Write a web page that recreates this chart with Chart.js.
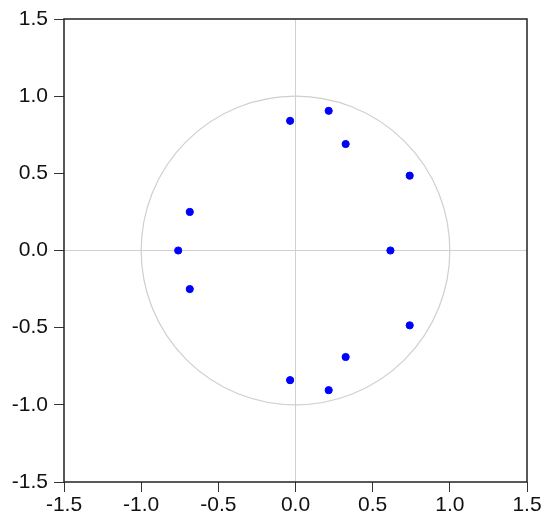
<!DOCTYPE html>
<html><head><meta charset="utf-8">
<script src="https://cdn.jsdelivr.net/npm/chart.js@4/dist/chart.umd.min.js"></script>
<style>html,body{margin:0;padding:0;background:#fff}#wrap{width:550px;height:525px}</style>
</head><body><div id="wrap"><canvas id="c" width="550" height="525"></canvas></div>
<script>
const rootsReal = [-0.035, -0.035, 0.215, 0.215, 0.325, 0.325, 0.74, 0.74, 0.615, -0.685, -0.685, -0.76];
const rootsImag = [0.84, -0.84, 0.905, -0.905, 0.69, -0.69, 0.485, -0.485, 0.0, 0.25, -0.25, 0.0];
const tickValues = [-1.5, -1.0, -0.5, 0.0, 0.5, 1.0, 1.5];
const circleRadius = 1;

const points = rootsReal.map((x, i) => ({x: x, y: rootsImag[i]}));

const framePlugin = {
  id: 'frame',
  beforeDatasetsDraw(chart) {
    const {ctx, chartArea: a, scales: {x, y}} = chart;
    const cx = x.getPixelForValue(0), cy = y.getPixelForValue(0);
    const rx = x.getPixelForValue(circleRadius) - cx;
    const ry = cy - y.getPixelForValue(circleRadius);
    ctx.save();
    ctx.strokeStyle = '#cfcfcf';
    ctx.lineWidth = 1.2;
    ctx.beginPath();
    ctx.ellipse(cx, cy, rx, ry, 0, 0, Math.PI * 2);
    ctx.stroke();
    ctx.restore();
  },
  afterDraw(chart) {
    const {ctx, chartArea: a} = chart;
    ctx.save();
    ctx.strokeStyle = '#222';
    ctx.lineWidth = 1.5;
    ctx.strokeRect(a.left, a.top, a.right - a.left, a.bottom - a.top);
    ctx.restore();
  }
};

function tickFmt(v) { return Number(v).toFixed(1); }

new Chart(document.getElementById('c'), {
  type: 'scatter',
  data: { datasets: [{ data: points, backgroundColor: '#0000ff', borderColor: '#0000ff', pointRadius: 3.6, pointHoverRadius: 3.6 }] },
  options: {
    responsive: false, animation: false, devicePixelRatio: 1,
    layout: { padding: { top: 19, right: 23, left: 0, bottom: 0 } },
    plugins: { legend: { display: false }, tooltip: { enabled: false } },
    scales: {
      x: {
        type: 'linear', min: -1.5, max: 1.5,
        afterBuildTicks(s) { s.ticks = tickValues.map(v => ({value: v})); },
        afterFit(s) { s.height = 43; },
        border: { display: false },
        grid: { drawOnChartArea: true, color: c => (c.tick && c.tick.value === 0) ? '#d0d0d0' : 'rgba(0,0,0,0)', tickColor: '#333', tickLength: 10, lineWidth: 1 },
        ticks: { color: '#111', font: { family: 'Liberation Sans, Arial', size: 21 }, padding: 1, maxRotation: 0, callback: tickFmt }
      },
      y: {
        type: 'linear', min: -1.5, max: 1.5,
        afterBuildTicks(s) { s.ticks = tickValues.map(v => ({value: v})); },
        afterFit(s) { s.width = 64; },
        border: { display: false },
        grid: { drawOnChartArea: true, color: c => (c.tick && c.tick.value === 0) ? '#d0d0d0' : 'rgba(0,0,0,0)', tickColor: '#333', tickLength: 10, lineWidth: 1 },
        ticks: { color: '#111', font: { family: 'Liberation Sans, Arial', size: 21 }, padding: 6, callback: tickFmt }
      }
    }
  },
  plugins: [framePlugin]
});
</script></body></html>
